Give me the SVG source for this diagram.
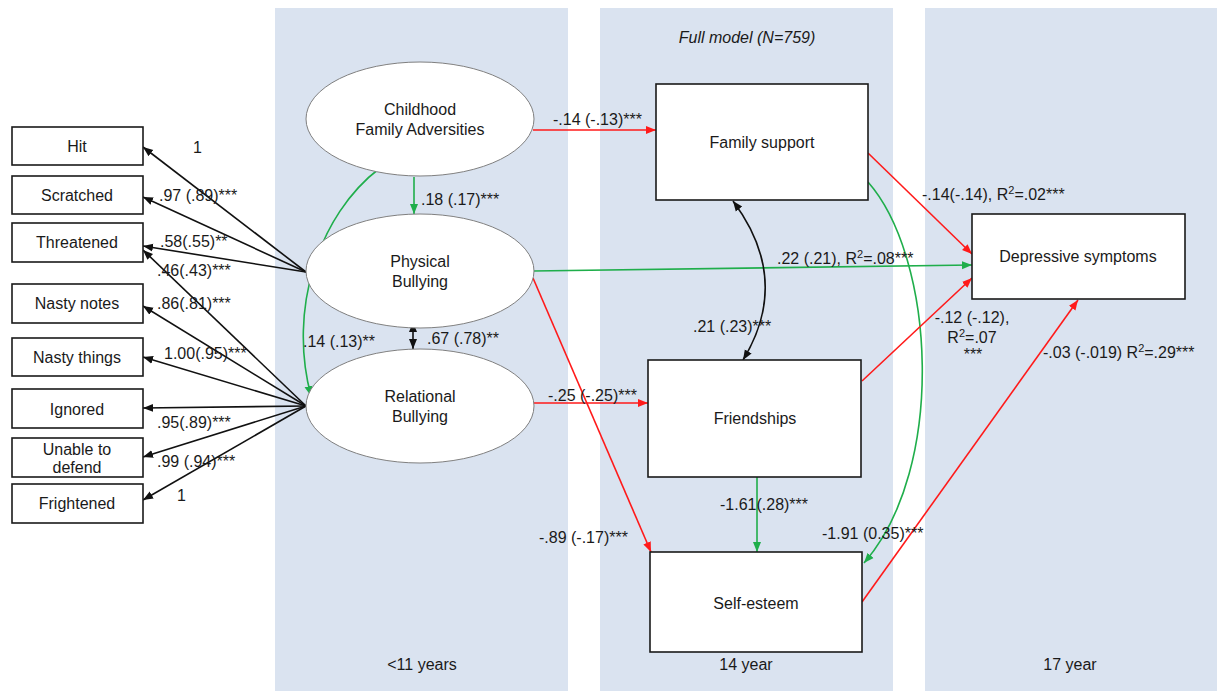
<svg xmlns="http://www.w3.org/2000/svg" width="1217" height="691" viewBox="0 0 1217 691">
<style>
text{font-family:"Liberation Sans",Arial,sans-serif;font-size:16px;fill:#1a1a1a}
.c{text-anchor:middle}
.panel{fill:#dae3f0}
.box{fill:#fff;stroke:#1a1a1a;stroke-width:1.6}
.ell{fill:#fff;stroke:#7f7f7f;stroke-width:1}
.k{stroke:#111;stroke-width:1.6;fill:none}
.r{stroke:#ff1a1a;stroke-width:1.6;fill:none}
.g{stroke:#1fae4b;stroke-width:1.6;fill:none}
</style>
<defs>
<marker id="ak" markerUnits="userSpaceOnUse" markerWidth="12" markerHeight="10" refX="10" refY="5" orient="auto-start-reverse"><path d="M0,1 L10,5 L0,9 Z" fill="#111"/></marker>
<marker id="ar" markerUnits="userSpaceOnUse" markerWidth="12" markerHeight="10" refX="10" refY="5" orient="auto"><path d="M0,1 L10,5 L0,9 Z" fill="#ff1a1a"/></marker>
<marker id="ag" markerUnits="userSpaceOnUse" markerWidth="12" markerHeight="10" refX="10" refY="5" orient="auto"><path d="M0,1 L10,5 L0,9 Z" fill="#1fae4b"/></marker>
</defs>
<rect width="1217" height="691" fill="#fff"/>
<g id="panels">
<rect class="panel" x="275" y="8" width="293" height="683"/>
<rect class="panel" x="600" y="8" width="293" height="683"/>
<rect class="panel" x="925" y="8" width="292" height="683"/>
<text class="c" x="422" y="670">&lt;11 years</text>
<text class="c" x="746" y="670">14 year</text>
<text class="c" x="1070" y="670">17 year</text>
<text class="c" x="747" y="43" font-style="italic">Full model  (N=759)</text>
</g>
<g id="connectors">
<line class="k" x1="306" y1="272" x2="143" y2="147" marker-end="url(#ak)"/>
<line class="k" x1="306" y1="272" x2="143" y2="197" marker-end="url(#ak)"/>
<line class="k" x1="306" y1="272" x2="143" y2="246" marker-end="url(#ak)"/>
<line class="k" x1="306" y1="406" x2="143" y2="250" marker-end="url(#ak)"/>
<line class="k" x1="306" y1="406" x2="143" y2="306" marker-end="url(#ak)"/>
<line class="k" x1="306" y1="406" x2="143" y2="357" marker-end="url(#ak)"/>
<line class="k" x1="306" y1="406" x2="143" y2="408" marker-end="url(#ak)"/>
<line class="k" x1="306" y1="406" x2="143" y2="457" marker-end="url(#ak)"/>
<line class="k" x1="306" y1="406" x2="143" y2="500" marker-end="url(#ak)"/>
<line class="r" x1="533" y1="130" x2="656" y2="130" marker-end="url(#ar)"/>
<line class="g" x1="414" y1="177" x2="414" y2="214" marker-end="url(#ag)"/>
<path class="g" d="M380,168 C318,215 288,310 311,396" marker-end="url(#ag)"/>
<line class="k" x1="413" y1="322" x2="413" y2="349" marker-start="url(#ak)" marker-end="url(#ak)"/>
<line class="g" x1="533" y1="271" x2="972" y2="265" marker-end="url(#ag)"/>
<line class="r" x1="533" y1="278" x2="651" y2="552" marker-end="url(#ar)"/>
<line class="r" x1="533" y1="403" x2="648" y2="403" marker-end="url(#ar)"/>
<path class="k" d="M733,201 Q792,280 743,360" marker-start="url(#ak)" marker-end="url(#ak)"/>
<line class="r" x1="868" y1="153" x2="972" y2="254" marker-end="url(#ar)"/>
<path class="g" d="M868,182 C935,258 947,468 864,563" marker-end="url(#ag)"/>
<line class="r" x1="862" y1="381" x2="972" y2="278" marker-end="url(#ar)"/>
<line class="g" x1="757" y1="477" x2="757" y2="552" marker-end="url(#ag)"/>
<line class="r" x1="862" y1="602" x2="1078" y2="300" marker-end="url(#ar)"/>
</g>
<g id="labels">
<text x="193" y="153">1</text>
<text x="159" y="201">.97 (.89)***</text>
<text x="160" y="247">.58(.55)**</text>
<text x="157" y="276">.46(.43)***</text>
<text x="157" y="309">.86(.81)***</text>
<text x="164" y="359">1.00(.95)***</text>
<text x="157" y="428">.95(.89)***</text>
<text x="157" y="467">.99 (.94)***</text>
<text x="177" y="501">1</text>
<text x="553" y="125">-.14 (-.13)***</text>
<text x="421" y="205">.18 (.17)***</text>
<text x="303" y="347">.14 (.13)**</text>
<text x="427" y="344">.67 (.78)**</text>
<text x="548" y="401">-.25 (-.25)***</text>
<text x="777" y="264">.22 (.21), R<tspan dy="-6" font-size="11">2</tspan><tspan dy="6">=.08***</tspan></text>
<text x="693" y="332">.21 (.23)***</text>
<text x="922" y="200">-.14(-.14), R<tspan dy="-6" font-size="11">2</tspan><tspan dy="6">=.02***</tspan></text>
<text class="c" x="972" y="323">-.12 (-.12),</text>
<text class="c" x="972" y="343">R<tspan dy="-6" font-size="11">2</tspan><tspan dy="6">=.07</tspan></text>
<text class="c" x="973" y="360">***</text>
<text x="1043" y="358">-.03 (-.019) R<tspan dy="-6" font-size="11">2</tspan><tspan dy="6">=.29***</tspan></text>
<text x="720" y="510">-1.61(.28)***</text>
<text x="539" y="543">-.89 (-.17)***</text>
<text x="822" y="539">-1.91 (0.35)***</text>
</g>
<g id="hit"><rect class="box" x="12" y="127" width="131" height="38"/><text class="c" x="77" y="152">Hit</text></g>
<g id="scratched"><rect class="box" x="12" y="176" width="131" height="38"/><text class="c" x="77" y="201">Scratched</text></g>
<g id="threatened"><rect class="box" x="12" y="223" width="131" height="39"/><text class="c" x="77" y="248">Threatened</text></g>
<g id="nasty-notes"><rect class="box" x="12" y="284" width="131" height="39"/><text class="c" x="77" y="309">Nasty notes</text></g>
<g id="nasty-things"><rect class="box" x="12" y="338" width="131" height="38"/><text class="c" x="77" y="363">Nasty things</text></g>
<g id="ignored"><rect class="box" x="12" y="389" width="131" height="39"/><text class="c" x="77" y="415">Ignored</text></g>
<g id="unable"><rect class="box" x="12" y="438" width="131" height="39"/><text class="c" x="77" y="455">Unable to</text><text class="c" x="77" y="473">defend</text></g>
<g id="frightened"><rect class="box" x="12" y="484" width="131" height="39"/><text class="c" x="77" y="509">Frightened</text></g>
<g id="childhood"><ellipse class="ell" cx="420" cy="119" rx="114" ry="57"/><text class="c" x="420" y="115">Childhood</text><text class="c" x="420" y="135">Family Adversities</text></g>
<g id="physical"><ellipse class="ell" cx="420" cy="271" rx="114" ry="57"/><text class="c" x="420" y="267">Physical</text><text class="c" x="420" y="287">Bullying</text></g>
<g id="relational"><ellipse class="ell" cx="420" cy="406" rx="114" ry="57"/><text class="c" x="420" y="402">Relational</text><text class="c" x="420" y="422">Bullying</text></g>
<g id="family-support"><rect class="box" x="656" y="84" width="212" height="116"/><text class="c" x="762" y="148">Family support</text></g>
<g id="friendships"><rect class="box" x="648" y="360" width="213" height="117"/><text class="c" x="755" y="424">Friendships</text></g>
<g id="self-esteem"><rect class="box" x="650" y="552" width="212" height="100"/><text class="c" x="756" y="609">Self-esteem</text></g>
<g id="depressive"><rect class="box" x="972" y="214" width="213" height="85"/><text class="c" x="1078" y="262">Depressive symptoms</text></g>
</svg>
